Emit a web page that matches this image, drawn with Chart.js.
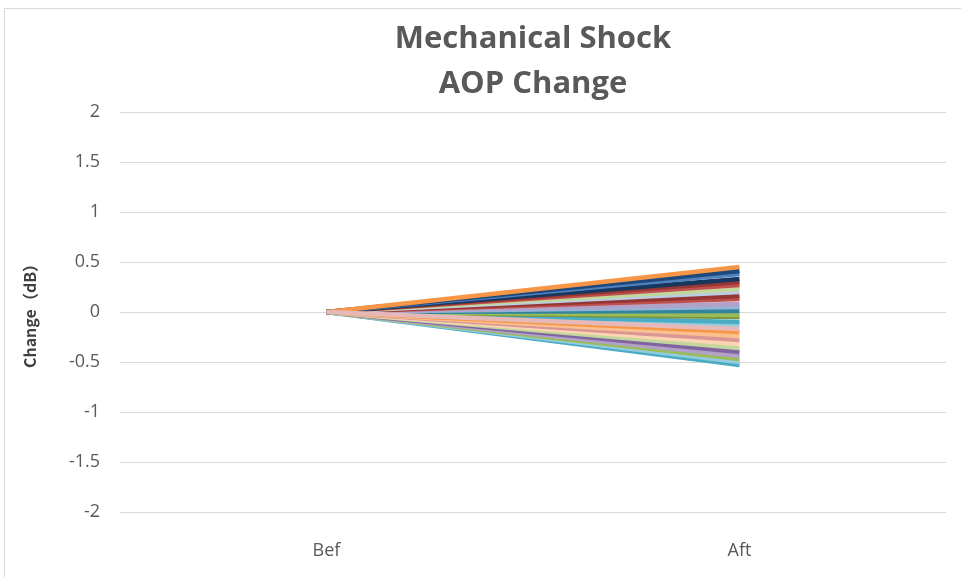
<!DOCTYPE html>
<html>
<head>
<meta charset="utf-8">
<script src="https://cdn.jsdelivr.net/npm/chart.js@4.4.1/dist/chart.umd.min.js"></script>
<style>
    html, body { margin: 0; padding: 0; background: #ffffff; overflow: hidden; }
    #wrap { position: relative; width: 961px; height: 577px; }
    #frame { position: absolute; left: 4px; top: 8px; width: 980px; height: 600px; border: 1px solid #d9d9d9; box-sizing: border-box; }
    canvas { position: absolute; left: 0; top: 0; }
</style>
</head>
<body>
<div id="wrap">
    <div id="frame"></div>
    <canvas id="aopChart" width="961" height="577"></canvas>
</div>
<script>
const categories = ['Bef', 'Aft'];
const yTicks = [-2, -1.5, -1, -0.5, 0, 0.5, 1, 1.5, 2];
const titleLines = ['Mechanical Shock', 'AOP Change'];

// change at "Aft" for each unit, all units start at 0 at "Bef"
const befValues = [0, 0, 0, 0, 0, 0, 0, 0, 0, 0, 0, 0, 0, 0, 0, 0, 0, 0, 0, 0, 0, 0, 0, 0, 0, 0, 0, 0];
const aftValues = [-0.17, 0.45, 0.41, 0.38, 0.33, 0.30, 0.27, 0.23, 0.20, 0.16, 0.13, 0.08, 0.05, 0.01,
    -0.03, -0.05, -0.10, -0.13, -0.20, -0.24, -0.28, -0.32, -0.36, -0.40, -0.44, -0.47, -0.50, -0.53];
const seriesColors = ['#e6b9b8', '#f79646', '#1f497d', '#4f81bd', '#17375e', '#953735', '#c0504d', '#c3d69b',
    '#b9cde5', '#943634', '#c0504d', '#b3a2c7', '#95b3d7', '#31859c', '#9bbb59', '#77933c', '#4bacc6',
    '#93cddd', '#f79646', '#fac090', '#d99694', '#fcd5b5', '#c3d69b', '#8064a2', '#b3a2c7', '#9bbb59',
    '#93cddd', '#4bacc6'];

const datasets = aftValues.map((v, i) => ({
    label: 'Unit ' + (i + 1),
    data: [befValues[i], v],
    borderColor: seriesColors[i],
    backgroundColor: seriesColors[i],
    borderWidth: 4.5,
    pointRadius: 0,
    tension: 0,
    fill: false
}));

// title centred over the plot area, like the Excel original
const plotTitle = {
    id: 'plotTitle',
    afterDraw(chart) {
        const ctx = chart.ctx;
        const area = chart.chartArea;
        const cx = (area.left + area.right) / 2;
        ctx.save();
        ctx.fillStyle = '#595959';
        ctx.font = 'bold 31px "Open Sans"';
        ctx.textAlign = 'center';
        ctx.textBaseline = 'middle';
        titleLines.forEach((t, i) => ctx.fillText(t, cx, 39 + i * 45));
        ctx.restore();
    }
};

new Chart(document.getElementById('aopChart'), {
    type: 'line',
    data: { labels: categories, datasets: datasets },
    plugins: [plotTitle],
    options: {
        responsive: false,
        animation: false,
        layout: { padding: { left: 0, right: 15, top: 112, bottom: 0 } },
        plugins: {
            legend: { display: false },
            tooltip: { enabled: false },
            title: { display: false }
        },
        scales: {
            x: {
                offset: true,
                grid: { display: false, drawTicks: false },
                border: { display: false },
                ticks: { color: '#595959', font: { family: 'Open Sans', size: 18 }, padding: 28 },
                afterFit: scale => { scale.height = 65; }
            },
            y: {
                min: -2,
                max: 2,
                afterBuildTicks: scale => { scale.ticks = yTicks.map(v => ({ value: v })); },
                grid: { color: '#d9d9d9', drawTicks: false },
                border: { display: false },
                ticks: {
                    color: '#595959',
                    font: { family: 'Open Sans', size: 18 },
                    padding: 20,
                    callback: v => String(v)
                },
                title: {
                    display: true,
                    text: 'Change（dB）',
                    color: '#404040',
                    font: { family: '"Noto Sans CJK SC"', size: 16, weight: 'bold' },
                    padding: { top: 20, bottom: 0 }
                },
                afterFit: scale => { scale.width = 120; }
            }
        }
    }
});
</script>
</body>
</html>
